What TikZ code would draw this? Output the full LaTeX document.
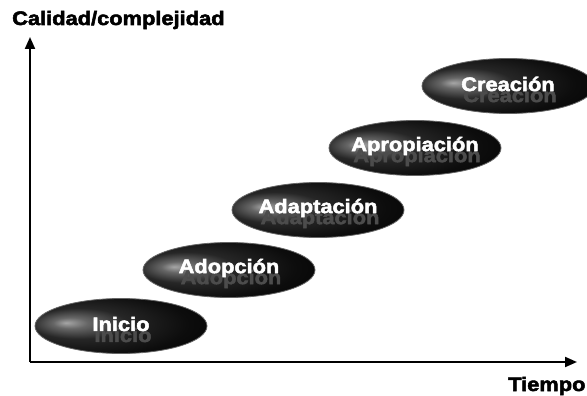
\documentclass[tikz,border=0pt]{standalone}
\usepackage{fontspec}
\usetikzlibrary{shapes.geometric,arrows.meta}
\newfontfamily\blk[FakeStretch=1.12,FakeBold=2.6]{Liberation Sans Bold}
\pgfdeclareradialshading{ellshade}{\pgfpoint{-16bp}{3bp}}{%
  color(0bp)=(black!35);color(5bp)=(black!60);color(14bp)=(black!85);
  color(28bp)=(black!95);color(44bp)=(black);color(52bp)=(black!85);color(62bp)=(black!70)}
\tikzset{
  stage/.style={ellipse, shading=ellshade, draw=black!60, line width=0.8pt,
    minimum width=172pt, minimum height=55pt, inner sep=0pt},
  stagetext/.style={text=white, font=\blk\fontsize{19.5}{20}\selectfont, inner sep=0pt},
  ghosttext/.style={text=black!70, font=\blk\fontsize{19.5}{20}\selectfont, inner sep=0pt},
  axislabel/.style={text=black, font=\blk\fontsize{19.5}{20}\selectfont, inner sep=0pt},
  axisline/.style={line width=2pt, -{Triangle[length=12pt,width=10pt]}}
}
\begin{document}
\begin{tikzpicture}[x=1pt,y=-1pt]
\useasboundingbox (0,0) rectangle (587,396);
% axes
\coordinate (o) at (30,362);
\coordinate (ytip) at (30,37);
\coordinate (xtip) at (577,362);
\draw[axisline] (o) -- (ytip);
\draw[axisline] (o) -- (xtip);
\node[axislabel, anchor=base west] (ylab) at (12,25) {Calidad/complejidad};
\node[axislabel, anchor=base west] (xlab) at (508,391) {Tiempo};
% stages
\foreach \n/\x/\y/\t in {s1/121/326/Inicio, s2/229/270/Adopción, s3/318/210/Adaptación, s4/415/148/Apropiación, s5/508/86/Creación}{
  \node[stage] (\n) at (\x,\y) {};
  \node[ghosttext] (\n g) at ([xshift=2pt,yshift=-9pt]\n.center) {\t};
  \node[stagetext] (\n t) at ([yshift=2pt]\n.center) {\t};
}
\end{tikzpicture}
\end{document}
